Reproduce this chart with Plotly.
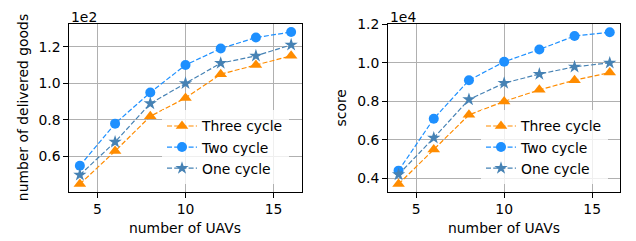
import plotly.graph_objects as go

uavs = [4, 6, 8, 10, 12, 14, 16]

goods_three = [45, 63, 82, 92, 105, 110, 115]
goods_two = [55, 78, 95, 110, 119, 125, 128]
goods_one = [50, 68, 89, 100, 111, 115, 121]

score_three = [3700, 5500, 7300, 8000, 8600, 9100, 9500]
score_two = [4400, 7100, 9100, 10060, 10700, 11400, 11600]
score_one = [4200, 6100, 8100, 8950, 9420, 9800, 10000]

series_names = ["Three cycle", "Two cycle", "One cycle"]
colors = ["#FF8C00", "#1E90FF", "#4682B4"]
symbols = ["triangle-up", "circle", "star"]
msizes = [11, 10, 10]

left_ticks = [60, 80, 100, 120]
left_ticktext = ["0.6", "0.8", "1.0", "1.2"]
right_ticks = [4000, 6000, 8000, 10000, 12000]
right_ticktext = ["0.4", "0.6", "0.8", "1.0", "1.2"]
x_ticks = [5, 10, 15]

W, H = 636, 241
FONT = "DejaVu Sans"
FS = 13.9

fig = go.Figure()

left_data = [goods_three, goods_two, goods_one]
right_data = [score_three, score_two, score_one]

for i in range(3):
    fig.add_trace(go.Scatter(
        x=uavs, y=left_data[i], name=series_names[i], mode="lines+markers",
        line=dict(color=colors[i], width=1.2, dash="5px,2.2px"),
        marker=dict(symbol=symbols[i], size=msizes[i], color=colors[i], line=dict(width=0)),
        xaxis="x", yaxis="y", legend="legend", legendgroup="l%d" % i,
    ))
for i in range(3):
    fig.add_trace(go.Scatter(
        x=uavs, y=right_data[i], name=series_names[i], mode="lines+markers",
        line=dict(color=colors[i], width=1.2, dash="5px,2.2px"),
        marker=dict(symbol=symbols[i], size=msizes[i], color=colors[i], line=dict(width=0)),
        xaxis="x2", yaxis="y2", legend="legend2", legendgroup="r%d" % i,
    ))

L1, R1 = 69.3 / W, 301.7 / W
L2, R2 = 388.0 / W, 620.3 / W
TOP = 1 - 17.0 / H
BOT = 1 - 190.0 / H

axis_common = dict(
    showline=True, linecolor="black", linewidth=1, mirror=True,
    ticks="outside", ticklen=5, tickwidth=1, tickcolor="black",
    showgrid=True, gridcolor="#b0b0b0", gridwidth=0.8, zeroline=False,
    tickfont=dict(family=FONT, size=FS, color="black"),
)

fig.update_layout(
    width=W, height=H,
    margin=dict(l=0, r=0, t=0, b=0),
    paper_bgcolor="white", plot_bgcolor="white",
    font=dict(family=FONT, size=FS, color="black"),
    xaxis=dict(domain=[L1, R1], range=[3.4, 16.6], tickvals=x_ticks, anchor="y", **axis_common),
    yaxis=dict(domain=[BOT, TOP], range=[40.85, 132.15], tickvals=left_ticks, ticktext=left_ticktext, anchor="x", **axis_common),
    xaxis2=dict(domain=[L2, R2], range=[3.4, 16.6], tickvals=x_ticks, anchor="y2", **axis_common),
    yaxis2=dict(domain=[BOT, TOP], range=[3305, 12002], tickvals=right_ticks, ticktext=right_ticktext, anchor="x2", **axis_common),
    legend=dict(x=162 / W, y=1 - 106 / H, xanchor="left", yanchor="top",
                bgcolor="rgba(255,255,255,0.8)", borderwidth=0,
                tracegroupgap=0, font=dict(family=FONT, size=FS, color="black")),
    legend2=dict(x=481 / W, y=1 - 106 / H, xanchor="left", yanchor="top",
                 bgcolor="rgba(255,255,255,0.8)", borderwidth=0,
                 tracegroupgap=0, font=dict(family=FONT, size=FS, color="black")),
    showlegend=True,
)

ann = [
    dict(text="1e2", x=L1, y=1 - 9 / H, xanchor="left", yanchor="middle"),
    dict(text="1e4", x=L2, y=1 - 9 / H, xanchor="left", yanchor="middle"),
    dict(text="number of delivered goods", x=23 / W, y=1 - 103.6 / H, textangle=-90, xanchor="center", yanchor="middle"),
    dict(text="score", x=341.3 / W, y=1 - 103.6 / H, textangle=-90, xanchor="center", yanchor="middle"),
    dict(text="number of UAVs", x=(L1 + R1) / 2, y=1 - 227.3 / H, xanchor="center", yanchor="middle"),
    dict(text="number of UAVs", x=(L2 + R2) / 2, y=1 - 227.3 / H, xanchor="center", yanchor="middle"),
]
for a in ann:
    a.update(xref="paper", yref="paper", showarrow=False, font=dict(family=FONT, size=FS, color="black"))
fig.update_layout(annotations=ann)

fig.write_html("out.html", config={"displayModeBar": False},
               post_script="document.body.style.margin='0';document.body.style.overflow='hidden';")
